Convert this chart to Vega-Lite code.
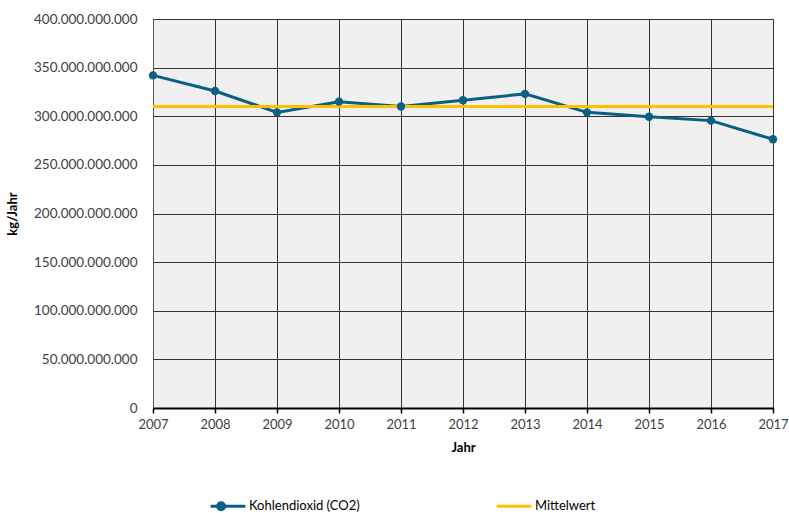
{
  "$schema": "https://vega.github.io/schema/vega-lite/v6.json",
  "width": 620,
  "height": 389,
  "autosize": "none",
  "padding": {"left": 153, "top": 19, "right": 16, "bottom": 105},
  "config": {
    "locale": {"number": {"decimal": ",", "thousands": ".", "grouping": [3], "currency": ["", " €"]}},
    "font": "Lato",
    "view": {"fill": "#f0f0f0", "stroke": "#404040", "strokeWidth": 1}
  },
  "data": {"values": [
    {"year": 2007, "value": 342000000000, "series": "Kohlendioxid (CO2)"},
    {"year": 2008, "value": 326000000000, "series": "Kohlendioxid (CO2)"},
    {"year": 2009, "value": 304000000000, "series": "Kohlendioxid (CO2)"},
    {"year": 2010, "value": 315000000000, "series": "Kohlendioxid (CO2)"},
    {"year": 2011, "value": 310000000000, "series": "Kohlendioxid (CO2)"},
    {"year": 2012, "value": 316500000000, "series": "Kohlendioxid (CO2)"},
    {"year": 2013, "value": 323000000000, "series": "Kohlendioxid (CO2)"},
    {"year": 2014, "value": 304000000000, "series": "Kohlendioxid (CO2)"},
    {"year": 2015, "value": 299500000000, "series": "Kohlendioxid (CO2)"},
    {"year": 2016, "value": 295500000000, "series": "Kohlendioxid (CO2)"},
    {"year": 2017, "value": 276300000000, "series": "Kohlendioxid (CO2)"},
    {"year": 2007, "value": 310000000000, "series": "Mittelwert"},
    {"year": 2017, "value": 310000000000, "series": "Mittelwert"}
  ]},
  "encoding": {
    "x": {
      "field": "year", "type": "quantitative",
      "scale": {"domain": [2007, 2017], "nice": false, "zero": false},
      "axis": {
        "title": "Jahr", "format": "d", "values": [2007,2008,2009,2010,2011,2012,2013,2014,2015,2016,2017],
        "grid": true, "gridColor": "#333333", "gridOpacity": 1, "gridWidth": 1,
        "domainColor": "#000000", "domainWidth": 2, "tickColor": "#000000", "tickSize": 5, "tickWidth": 1.5,
        "labelFontSize": 13, "labelColor": "#404040", "labelPadding": 5, "labelFlush": false, "labelOverlap": false,
        "titleFontSize": 13, "titleFontWeight": "bold", "titleColor": "#000000", "titlePadding": 10
      }
    },
    "y": {
      "field": "value", "type": "quantitative",
      "scale": {"domain": [0, 400000000000], "nice": false},
      "axis": {
        "title": "kg/Jahr", "format": ",.0f",
        "values": [0, 50000000000, 100000000000, 150000000000, 200000000000, 250000000000, 300000000000, 350000000000, 400000000000],
        "grid": true, "gridColor": "#333333", "gridOpacity": 1, "gridWidth": 1,
        "domainColor": "#555555", "domainWidth": 1, "ticks": false, "labelPadding": 16, "labelOverlap": false,
        "labelFontSize": 13.5, "labelColor": "#404040",
        "titleFontSize": 13, "titleFontWeight": "bold", "titleColor": "#000000", "titlePadding": 14
      }
    },
    "color": {
      "field": "series", "type": "nominal",
      "scale": {"domain": ["Kohlendioxid (CO2)", "Mittelwert"], "range": ["#0b5f84", "#ffc000"]},
      "legend": {
        "title": null, "orient": "none", "legendX": 56, "legendY": 468, "direction": "horizontal",
        "columnPadding": 130, "symbolSize": 1200, "symbolStrokeWidth": 3,
        "labelFontSize": 13, "labelColor": "#000000", "labelOffset": 2,
        "encode": {
          "symbols": {"update": {
            "shape": {"signal": "datum.label === 'Mittelwert' ? 'M-1,0H1M0,-0.2L0,-0.2M0,0.2L0,0.2' : 'M-1,0H1M-0.2,0A0.2,0.2,0,1,1,-0.6,0A0.2,0.2,0,1,1,-0.2,0'"},
            "fill": {"signal": "datum.label === 'Mittelwert' ? 'transparent' : '#0b5f84'"},
            "strokeWidth": {"value": 3}
          }}
        }
      }
    }
  },
  "layer": [
    {"mark": {"type": "line", "strokeWidth": 3}},
    {
      "transform": [{"filter": "datum.series === 'Kohlendioxid (CO2)'"}],
      "mark": {"type": "point", "filled": true, "size": 70, "opacity": 1}
    }
  ]
}
